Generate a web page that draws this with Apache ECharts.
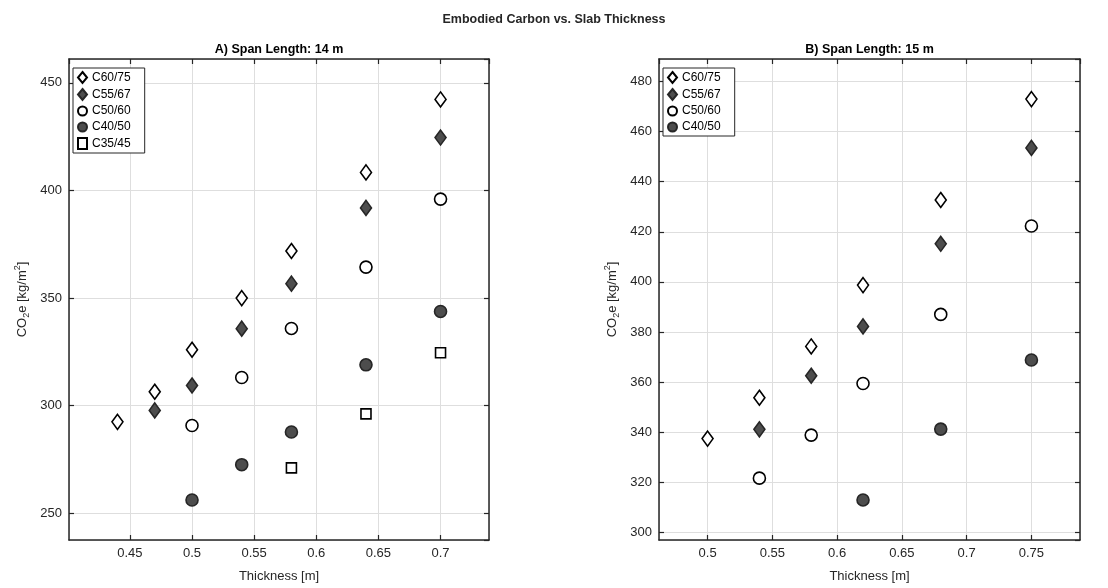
<!DOCTYPE html>
<html>
<head>
<meta charset="utf-8">
<script src="https://cdn.jsdelivr.net/npm/echarts@6/dist/echarts.min.js"></script>
<style>html,body{margin:0;padding:0;background:#fff}#c{width:1108px;height:588px}</style>
</head>
<body>
<div id="c"></div>
<script>
// ---- Data ----
const mainTitle = 'Embodied Carbon vs. Slab Thickness';
const panelTitles = ['A) Span Length: 14 m', 'B) Span Length: 15 m'];
const seriesNames = ['C60/75', 'C55/67', 'C50/60', 'C40/50', 'C35/45'];

// Panel A (14 m)
const a_C6075_x = [0.44, 0.47, 0.50, 0.54, 0.58, 0.64, 0.70];
const a_C6075_y = [292.5, 306.5, 326.0, 350.0, 371.9, 408.4, 442.3];
const a_C5567_x = [0.47, 0.50, 0.54, 0.58, 0.64, 0.70];
const a_C5567_y = [297.8, 309.4, 335.8, 356.7, 391.9, 424.6];
const a_C5060_x = [0.50, 0.54, 0.58, 0.64, 0.70];
const a_C5060_y = [290.8, 313.1, 335.9, 364.4, 396.0];
const a_C4050_x = [0.50, 0.54, 0.58, 0.64, 0.70];
const a_C4050_y = [256.2, 272.6, 287.8, 319.0, 343.8];
const a_C3545_x = [0.58, 0.64, 0.70];
const a_C3545_y = [271.1, 296.2, 324.6];

// Panel B (15 m)
const b_C6075_x = [0.50, 0.54, 0.58, 0.62, 0.68, 0.75];
const b_C6075_y = [337.4, 353.7, 374.2, 398.7, 432.7, 473.0];
const b_C5567_x = [0.54, 0.58, 0.62, 0.68, 0.75];
const b_C5567_y = [341.1, 362.5, 382.2, 415.2, 453.5];
const b_C5060_x = [0.54, 0.58, 0.62, 0.68, 0.75];
const b_C5060_y = [321.6, 338.8, 359.4, 387.0, 422.3];
const b_C4050_x = [0.62, 0.68, 0.75];
const b_C4050_y = [312.9, 341.2, 368.8];

// Axis limits
const aXLim = [0.401, 0.739];
const aYLim = [237.6, 461.1];
const bXLim = [0.4625, 0.7875];
const bYLim = [296.9, 489.0];

// ---- Styles ----
const AX = '#262626';
const FILL = '#4d4d4d';
const font = 'Liberation Sans, Arial, Helvetica, sans-serif';
const styles = {
  'C60/75': {symbol: 'diamond', size: [11, 15], color: '#ffffff', border: '#000000'},
  'C55/67': {symbol: 'diamond', size: [11, 15], color: FILL, border: '#262626'},
  'C50/60': {symbol: 'circle', size: 12, color: '#ffffff', border: '#000000'},
  'C40/50': {symbol: 'circle', size: 12, color: FILL, border: '#262626'},
  'C35/45': {symbol: 'rect', size: 10, color: '#ffffff', border: '#000000'}
};

function zip(xs, ys) { return xs.map((x, i) => [x, ys[i]]); }

const gridA = {left: 69, top: 59, width: 420, height: 483};
const gridB = {left: 659, top: 59, width: 421, height: 483};

function mkX(gi, lim, split, pos, show) {
  return {
    type: 'value', gridIndex: gi, min: lim[0], max: lim[1], splitNumber: split,
    position: pos,
    name: show ? 'Thickness [m]' : '', nameLocation: 'middle', nameGap: 30,
    nameTextStyle: {fontFamily: font, fontSize: 13, color: AX},
    axisLine: {show: true, onZero: false, lineStyle: {color: AX, width: 1.5}},
    axisTick: {show: true, inside: true, length: 5, lineStyle: {color: AX, width: 1.2}},
    axisLabel: {show: show, showMinLabel: false, showMaxLabel: false, fontFamily: font, fontSize: 13, color: AX, margin: 7},
    splitLine: {show: show, lineStyle: {color: '#dedede', width: 1}}
  };
}
function mkY(gi, lim, split, pos, show) {
  return {
    type: 'value', gridIndex: gi, min: lim[0], max: lim[1], splitNumber: split,
    position: pos,
    name: show ? 'CO{sub|2}e [kg/m{sup|2}]' : '', nameLocation: 'middle', nameGap: 38, nameRotate: 90,
    nameTextStyle: {fontFamily: font, fontSize: 13, color: AX, lineHeight: 18,
      rich: {
        sub: {fontFamily: font, fontSize: 9, color: AX, verticalAlign: 'bottom', lineHeight: 18},
        sup: {fontFamily: font, fontSize: 9, color: AX, verticalAlign: 'top', lineHeight: 18}
      }},
    axisLine: {show: true, onZero: false, lineStyle: {color: AX, width: 1.5}},
    axisTick: {show: true, inside: true, length: 5, lineStyle: {color: AX, width: 1.2}},
    axisLabel: {show: show, showMinLabel: false, showMaxLabel: false, fontFamily: font, fontSize: 13, color: AX, margin: 7},
    splitLine: {show: show, lineStyle: {color: '#dedede', width: 1}}
  };
}

function mkSeries(name, xs, ys, xi, yi) {
  const s = styles[name];
  return {
    name: name, type: 'scatter', xAxisIndex: xi, yAxisIndex: yi,
    symbol: s.symbol, symbolSize: s.size,
    itemStyle: {color: s.color, borderColor: s.border, borderWidth: 1.6, opacity: 1},
    emphasis: {disabled: true},
    data: zip(xs, ys), z: 5
  };
}

const series = [
  mkSeries('C60/75', a_C6075_x, a_C6075_y, 0, 0),
  mkSeries('C55/67', a_C5567_x, a_C5567_y, 0, 0),
  mkSeries('C50/60', a_C5060_x, a_C5060_y, 0, 0),
  mkSeries('C40/50', a_C4050_x, a_C4050_y, 0, 0),
  mkSeries('C35/45', a_C3545_x, a_C3545_y, 0, 0),
  mkSeries('C60/75', b_C6075_x, b_C6075_y, 2, 2),
  mkSeries('C55/67', b_C5567_x, b_C5567_y, 2, 2),
  mkSeries('C50/60', b_C5060_x, b_C5060_y, 2, 2),
  mkSeries('C40/50', b_C4050_x, b_C4050_y, 2, 2)
];

function mkLegend(left, names) {
  return {
    left: left, top: 68, orient: 'vertical',
    data: names.map(n => ({name: n, icon: styles[n].symbol})),
    backgroundColor: '#ffffff', borderColor: AX, borderWidth: 1,
    padding: [3, 14, 3, 4], itemGap: 4, itemWidth: 9, itemHeight: 11,
    textStyle: {fontFamily: font, fontSize: 12, color: '#000', padding: [0, 0, 0, 0]},
    selectedMode: false, z: 10
  };
}

const chart = echarts.init(document.getElementById('c'), null, {renderer: 'canvas'});
chart.setOption({
  animation: false,
  backgroundColor: '#ffffff',
  title: {text: mainTitle, left: 'center', top: 8,
    textStyle: {fontFamily: font, fontSize: 12.5, fontWeight: 'bold', color: '#262626'}},
  graphic: [
    {type: 'text', x: gridA.left + gridA.width / 2, y: 43,
      style: {text: panelTitles[0], align: 'center', font: 'bold 12.5px ' + font, fill: '#000'}},
    {type: 'text', x: gridB.left + gridB.width / 2, y: 43,
      style: {text: panelTitles[1], align: 'center', font: 'bold 12.5px ' + font, fill: '#000'}}
  ],
  legend: [
    mkLegend(73, seriesNames),
    mkLegend(663, seriesNames.slice(0, 4))
  ],
  grid: [gridA, gridB],
  xAxis: [
    mkX(0, aXLim, 7, 'bottom', true), mkX(0, aXLim, 7, 'top', false),
    mkX(1, bXLim, 6, 'bottom', true), mkX(1, bXLim, 6, 'top', false)
  ],
  yAxis: [
    mkY(0, aYLim, 5, 'left', true), mkY(0, aYLim, 5, 'right', false),
    mkY(1, bYLim, 10, 'left', true), mkY(1, bYLim, 10, 'right', false)
  ],
  series: series
});
</script>
</body>
</html>
